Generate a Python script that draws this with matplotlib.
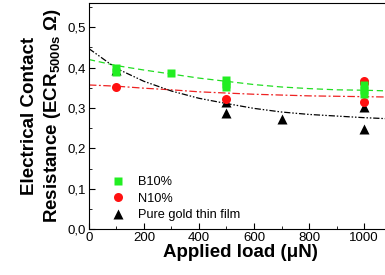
import matplotlib
matplotlib.use('Agg')
import matplotlib.pyplot as plt
from matplotlib.ticker import MultipleLocator, FuncFormatter

plt.rcParams['font.family'] = ['Liberation Sans', 'DejaVu Sans']
plt.rcParams['mathtext.fontset'] = 'custom'
plt.rcParams['mathtext.bf'] = 'Liberation Sans:bold'
plt.rcParams['mathtext.rm'] = 'Liberation Sans'

# measured points
b10_load = [100, 100, 300, 500, 500, 500, 1000, 1000, 1000]
b10_ecr = [0.398, 0.390, 0.387, 0.369, 0.360, 0.352, 0.356, 0.345, 0.334]

n10_load = [100, 500, 1000, 1000, 1000]
n10_ecr = [0.351, 0.321, 0.367, 0.361, 0.315]

au_load = [100, 500, 500, 700, 1000, 1000]
au_ecr = [0.394, 0.315, 0.288, 0.272, 0.303, 0.247]

# fitted curves
fit_load = [0, 100, 200, 300, 400, 500, 600, 700, 800, 900, 1000, 1100]
b10_fit = [0.420, 0.405, 0.394, 0.384, 0.374, 0.366, 0.358, 0.352, 0.348, 0.345, 0.344, 0.342]
n10_fit = [0.357, 0.354, 0.349, 0.345, 0.340, 0.337, 0.334, 0.332, 0.330, 0.329, 0.328, 0.327]
au_fit = [0.447, 0.398, 0.366, 0.342, 0.324, 0.311, 0.299, 0.290, 0.284, 0.280, 0.276, 0.273]

fig = plt.figure(figsize=(3.85, 2.75), dpi=100)
ax = fig.add_axes([0.231, 0.167, 0.786, 0.822])

ax.plot(fit_load, b10_fit, color='#22dd22', ls=(0, (5, 3)), lw=0.9)
ax.plot(fit_load, n10_fit, color='#ee2222', ls=(0, (6, 2, 1.5, 2)), lw=0.9)
ax.plot(fit_load, au_fit, color='black', ls=(0, (5, 1.5, 1.2, 1.5, 1.2, 1.5)), lw=0.9)

h_au, = ax.plot(au_load, au_ecr, '^', color='black', ms=7, mec='none', label='Pure gold thin film')
h_n10, = ax.plot(n10_load, n10_ecr, 'o', color='#ff1111', ms=6.5, mec='none', label='N10%')
h_b10, = ax.plot(b10_load, b10_ecr, 's', color='#22ee22', ms=6, mec='none', label='B10%')

ax.set_xlim(0, 1100)
ax.set_ylim(0, 0.56)
ax.xaxis.set_major_locator(MultipleLocator(200))
ax.xaxis.set_minor_locator(MultipleLocator(100))
ax.yaxis.set_major_locator(MultipleLocator(0.1))
ax.yaxis.set_minor_locator(MultipleLocator(0.05))
ax.yaxis.set_major_formatter(FuncFormatter(lambda v, p: f'{v:.1f}'.replace('.', ',')))
ax.tick_params(which='both', direction='in', labelsize=9.5, pad=2)
ax.tick_params(which='major', length=4)
ax.tick_params(which='minor', length=2)

ax.set_xlabel('Applied load (μN)', fontsize=13.5, fontweight='bold', labelpad=0)
ax.set_ylabel('Electrical Contact\nResistance (ECR$_{\\mathbf{5000s}}$ Ω)',
              fontsize=13.5, fontweight='bold', labelpad=3, linespacing=1.3)

ax.legend(handles=[h_b10, h_n10, h_au], loc='lower left', frameon=False, fontsize=9.2,
          handletextpad=0.5, borderaxespad=0.2, labelspacing=0.35,
          bbox_to_anchor=(0.03, 0.0))

fig.savefig('out.png', dpi=100)
